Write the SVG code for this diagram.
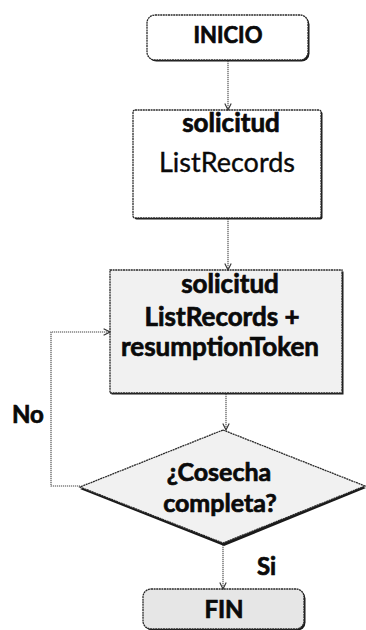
<svg xmlns="http://www.w3.org/2000/svg" width="366" height="630" viewBox="0 0 366 630">
  <style>
    .shadow { fill: #1a1a1a; stroke: none; }
    .box { fill: #ffffff; stroke: #2a2a2a; stroke-width: 1.3; stroke-dasharray: 2 0.6; }
    .grey { fill: #f1f1f1; }
    .darkgrey { fill: #e6e6e6; }
    .txt { font-family: Lato, "Open Sans", sans-serif; fill: #0a0a0a; text-anchor: middle; stroke: #0a0a0a; stroke-width: 0.35; }
    .b { font-weight: 700; stroke-width: 0.7; }
    .edge { fill: none; stroke: #444; stroke-width: 1.1; stroke-dasharray: 1.2 0.8; }
    .lbl { font-family: Lato, "Open Sans", sans-serif; font-weight: 700; fill: #0a0a0a; stroke: #0a0a0a; stroke-width: 0.7; }
  </style>
  <defs>
    <marker id="arrow" viewBox="0 0 10 10" refX="9" refY="5" markerWidth="8" markerHeight="8" orient="auto" markerUnits="userSpaceOnUse">
      <path d="M1,1 L9,5 L1,9" fill="none" stroke="#333" stroke-width="1.4"/>
    </marker>
  </defs>

  <rect width="366" height="630" fill="#ffffff"/>

  <!-- start terminal -->
  <g id="inicio">
    <rect class="shadow" x="148.5" y="16.5" width="161" height="45" rx="8"/>
    <rect class="box" x="147" y="15" width="161" height="45" rx="8"/>
    <text class="txt b" x="228" y="43" font-size="22">INICIO</text>
  </g>

  <!-- first request -->
  <g id="solicitud1">
    <rect class="shadow" x="134.5" y="111.5" width="188" height="108" rx="2"/>
    <rect class="box" x="133" y="110" width="188" height="108" rx="2"/>
    <text class="txt b" x="231" y="132" font-size="26">solicitud</text>
    <text class="txt" x="227" y="172" font-size="27">ListRecords</text>
  </g>

  <!-- request with resumption token -->
  <g id="solicitud2">
    <rect class="shadow" x="111.5" y="271.5" width="232" height="123"/>
    <rect class="box grey" x="110" y="270" width="232" height="123"/>
    <text class="txt b" x="230" y="293" font-size="26">solicitud</text>
    <text class="txt b" x="222" y="326" font-size="26">ListRecords +</text>
    <text class="txt b" x="220" y="356" font-size="26">resumptionToken</text>
  </g>

  <!-- decision -->
  <g id="cosecha">
    <polygon class="shadow" points="224,432 366,488 224,546 80,489"/>
    <polygon class="box grey" points="223,430 365,486 223,543 80,487"/>
    <text class="txt b" x="219" y="481" font-size="25">¿Cosecha</text>
    <text class="txt b" x="220" y="512" font-size="25">completa?</text>
  </g>

  <!-- end terminal -->
  <g id="fin">
    <rect class="shadow" x="144.5" y="590.5" width="161" height="40" rx="8"/>
    <rect class="box darkgrey" x="143" y="589" width="161" height="40" rx="8"/>
    <text class="txt b" x="224" y="618" font-size="24">FIN</text>
  </g>

  <!-- connectors -->
  <g id="connectors">
    <line class="edge" x1="228" y1="61" x2="228" y2="110" marker-end="url(#arrow)"/>
    <line class="edge" x1="228" y1="219" x2="228" y2="270" marker-end="url(#arrow)"/>
    <line class="edge" x1="226" y1="394" x2="226" y2="430" marker-end="url(#arrow)"/>
    <line class="edge" x1="223" y1="545" x2="223" y2="589" marker-end="url(#arrow)"/>
    <polyline class="edge" points="80,486 51,486 51,332 110,332" marker-end="url(#arrow)"/>
    <text class="lbl" x="12" y="423" font-size="24">No</text>
    <text class="lbl" x="257" y="575" font-size="24">Si</text>
  </g>
</svg>
